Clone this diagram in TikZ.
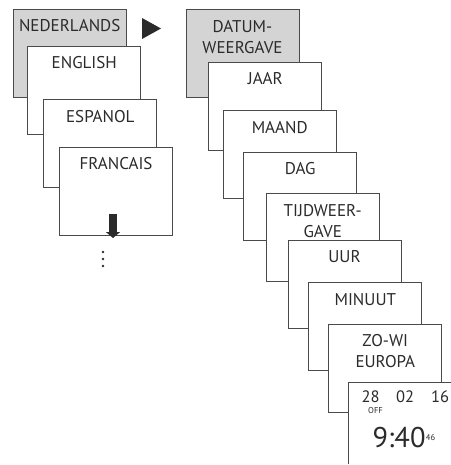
\documentclass[tikz,border=0pt]{standalone}
\usepackage{fontspec}
\setmainfont{PT Sans}
\usetikzlibrary{positioning}
\usetikzlibrary{arrows.meta}

\definecolor{cardline}{HTML}{4A4A4A}
\definecolor{cardgray}{HTML}{D4D4D4}
\definecolor{ink}{HTML}{2B2B2B}

\tikzset{
  card/.style={draw=cardline, fill=white, line width=1pt, inner sep=0pt,
               minimum width=113pt, minimum height=88pt, anchor=north west},
  firstcard/.style={card, fill=cardgray},
  cardtext/.style={anchor=north, inner sep=0pt, align=center, text=ink,
                   font=\fontsize{17}{21}\selectfont},
}

\begin{document}
\begin{tikzpicture}[x=1pt, y=-1pt]
            \useasboundingbox (0,0) rectangle (450,465);

            % language menu
            \node[firstcard] (nl) at (12.7,9) {};
            \node[cardtext] (nl-t) at ([yshift=-10.5pt]nl.north) {NEDERLANDS};
            \node[card] (en) at (27.3,45.7) {};
            \node[cardtext] (en-t) at ([yshift=-10.5pt]en.north) {ENGLISH};
            \node[card] (es) at (43.3,99.3) {};
            \node[cardtext] (es-t) at ([yshift=-10.5pt]es.north) {ESPANOL};
            \node[card] (fr) at (59,146.7) {};
            \node[cardtext] (fr-t) at ([yshift=-10.5pt]fr.north) {FRANCAIS};

            \draw[ink, line width=8pt, -{Triangle[width=14pt,length=6pt]}] (113,214) -- (113,238);
            \fill[ink] (103,252) circle (1.4pt) (103,259) circle (1.4pt) (103,266) circle (1.4pt);

            \fill[ink] (142,18) -- (161,28.5) -- (142,39) -- cycle;

            % date and time menu
            \node[firstcard] (datum) at (185.5,9.3) {};
            \node[cardtext] (datum-t) at ([yshift=-10.5pt]datum.north) {DATUM-\\WEERGAVE};
            \node[card] (jaar) at (208.3,61.7) {};
            \node[cardtext] (jaar-t) at ([yshift=-10.5pt]jaar.north) {JAAR};
            \node[card] (maand) at (222.7,110.3) {};
            \node[cardtext] (maand-t) at ([yshift=-10.5pt]maand.north) {MAAND};
            \node[card] (dag) at (243.3,151.7) {};
            \node[cardtext] (dag-t) at ([yshift=-10.5pt]dag.north) {DAG};
            \node[card] (tijd) at (265.7,193.3) {};
            \node[cardtext] (tijd-t) at ([yshift=-10.5pt]tijd.north) {TIJDWEER-\\GAVE};
            \node[card] (uur) at (287.5,240) {};
            \node[cardtext] (uur-t) at ([yshift=-10.5pt]uur.north) {UUR};
            \node[card] (minuut) at (308.3,282.3) {};
            \node[cardtext] (minuut-t) at ([yshift=-10.5pt]minuut.north) {MINUUT};
            \node[card] (zowi) at (328.3,324) {};
            \node[cardtext] (zowi-t) at ([yshift=-10.5pt]zowi.north) {ZO-WI\\EUROPA};

            % display
            \node[card, draw=none, minimum width=103pt, minimum height=81pt] (clock) at (348,382) {};
            \draw[cardline, line width=1pt] (clock.north east) -- (clock.north west) -- (clock.south west);
            \node[anchor=base west, inner sep=0pt, text=ink, font=\fontsize{16.5}{16}\selectfont] (day) at (361.5,402.7) {28};
            \node[anchor=base west, inner sep=0pt, text=ink, font=\fontsize{16.5}{16}\selectfont] (month) at (396,402.7) {02};
            \node[anchor=base west, inner sep=0pt, text=ink, font=\fontsize{16.5}{16}\selectfont] (year) at (431,402.7) {16};
            \node[anchor=base west, inner sep=0pt, text=ink, font=\fontsize{8.5}{8}\selectfont] (off) at (368,413.3) {OFF};
            \node[anchor=base west, inner sep=0pt, text=ink, font=\fontsize{28.5}{28}\selectfont] (time) at (372.5,447.3) {9:40};
            \node[anchor=base west, inner sep=0pt, text=ink, font=\fontsize{8.5}{8}\selectfont] (sec) at (time.east |- 0,440.7) {46};
\end{tikzpicture}
\end{document}
